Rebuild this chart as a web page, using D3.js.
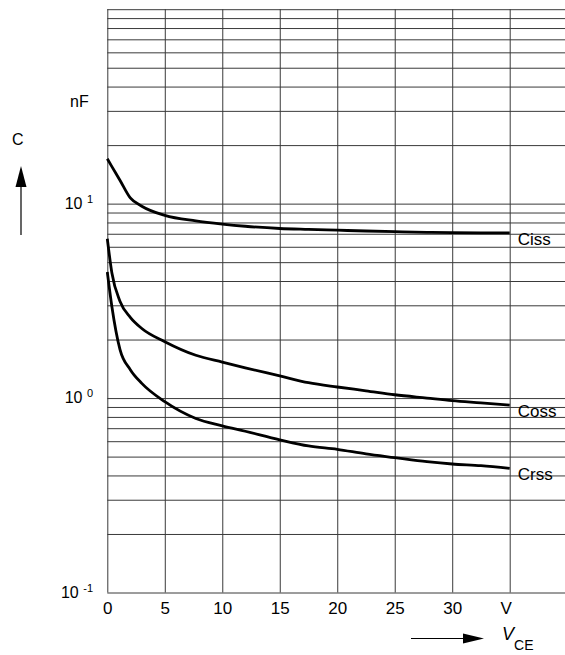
<!DOCTYPE html>
<html>
<head>
<meta charset="utf-8">
<script src="https://cdn.jsdelivr.net/npm/d3@7"></script>
<style>
  html, body { margin: 0; padding: 0; background: #fff; }
  svg { display: block; }
  text { font-family: "Liberation Sans", Arial, sans-serif; fill: #000; }
</style>
</head>
<body>
<svg id="chart" width="565" height="655"></svg>
<script>
// Collector-emitter voltage V_CE (V) at which each capacitance is read
const vce = [0, 0.4, 1.1, 2, 3, 5, 7.7, 10, 12, 15, 17.5, 20, 22.5, 25, 27.8, 30, 32.5, 35];

// Capacitances in nF
const ciss = [17.0, 15.5, 13.2, 10.7, 9.7, 8.7, 8.15, 7.85, 7.65, 7.45, 7.37, 7.3, 7.23, 7.17, 7.12, 7.09, 7.08, 7.08];
const coss = [6.6, 4.4, 3.15, 2.6, 2.28, 1.95, 1.66, 1.53, 1.43, 1.30, 1.20, 1.14, 1.09, 1.04, 1.00, 0.97, 0.945, 0.92];
const crss = [4.45, 2.95, 1.78, 1.40, 1.19, 0.958, 0.785, 0.72, 0.675, 0.61, 0.567, 0.545, 0.516, 0.494, 0.471, 0.458, 0.449, 0.435];

const seriesNames = ["Ciss", "Coss", "Crss"];

// Axis ticks
const xTicks = [0, 5, 10, 15, 20, 25, 30, 35];
const xTickLabels = ["0", "5", "10", "15", "20", "25", "30", "V"];
const yDecades = [0.1, 1, 10];
const yDecadeExponents = ["-1", "0", "1"];

const svg = d3.select("#chart");
const W = 565;

const x = d3.scaleLinear().domain([0, 35]).range([107.3, 509.7]);
const y = d3.scaleLog().domain([0.1, 100]).range([592.5, 9.2]);

// Every 1..9 multiple of each decade gets a horizontal grid line
const yGrid = [];
[0.1, 1, 10].forEach(d => { for (let k = 1; k <= 9; k++) yGrid.push(+(d * k).toPrecision(3)); });
yGrid.push(100);

const grid = svg.append("g");

// horizontal grid (runs to the right edge of the page)
grid.append("g")
  .attr("transform", `translate(${x(0)},0)`)
  .call(d3.axisRight(y).tickValues(yGrid).tickSize(W - x(0)).tickFormat(""))
  .call(g => g.select(".domain").remove())
  .call(g => g.selectAll(".tick line").attr("stroke", "#3a3a3a").attr("stroke-width", 1));

// vertical grid
grid.append("g")
  .attr("transform", `translate(0,${y(100)})`)
  .call(d3.axisBottom(x).tickValues(xTicks).tickSize(y(0.1) - y(100)).tickFormat(""))
  .call(g => g.select(".domain").remove())
  .call(g => g.selectAll(".tick line").attr("stroke", "#3a3a3a").attr("stroke-width", 1));

// x tick labels
svg.append("g")
  .attr("transform", `translate(0,${y(0.1)})`)
  .call(d3.axisBottom(x).tickValues(xTicks).tickSize(0).tickPadding(9)
        .tickFormat((d, i) => xTickLabels[i]))
  .call(g => g.select(".domain").remove())
  .call(g => g.selectAll("text").attr("font-size", 17)
        .attr("font-family", "'Liberation Sans', Arial, sans-serif").attr("fill", "#000"));
svg.selectAll(".tick text").filter(function () { return this.textContent === "V"; })
  .attr("dx", -4);

// y decade labels: 10 with a raised exponent
const yl = svg.append("g");
yDecades.forEach((d, i) => {
  const t = yl.append("text")
    .attr("x", 93)
    .attr("y", y(d) + 5)
    .attr("text-anchor", "end")
    .attr("font-size", 16);
  t.append("tspan").text("10 ");
  t.append("tspan").attr("font-size", 11).attr("dy", -6).text(yDecadeExponents[i]);
});

// unit and quantity
svg.append("text").attr("x", 70).attr("y", 107).attr("font-size", 16).text("nF");
svg.append("text").attr("x", 12).attr("y", 145).attr("font-size", 16).text("C");

// upward arrow under C
svg.append("line").attr("x1", 21).attr("x2", 21).attr("y1", 235).attr("y2", 184)
  .attr("stroke", "#000").attr("stroke-width", 1.2);
svg.append("path").attr("d", "M21,166 L15.5,187 L26.5,187 Z").attr("fill", "#000");

// V_CE arrow and label
svg.append("line").attr("x1", 411).attr("x2", 466).attr("y1", 638.5).attr("y2", 638.5)
  .attr("stroke", "#000").attr("stroke-width", 1.2);
svg.append("path").attr("d", "M484,638.5 L463,633.5 L463,643.5 Z").attr("fill", "#000");
const vl = svg.append("text").attr("x", 502).attr("y", 640).attr("font-size", 18);
vl.append("tspan").attr("font-style", "italic").text("V");
vl.append("tspan").attr("font-size", 14).attr("dy", 10).text("CE");

// curves
const line = d3.line().x((d, i) => x(vce[i])).y(d => y(d)).curve(d3.curveMonotoneX);
const seriesValues = [ciss, coss, crss];
svg.append("g").selectAll("path")
  .data(seriesValues)
  .join("path")
  .attr("d", d => line(d))
  .attr("fill", "none")
  .attr("stroke", "#000")
  .attr("stroke-width", 2.8)
  .attr("stroke-linejoin", "round");

// series labels beside the right end of each curve
svg.append("g").selectAll("text")
  .data(seriesValues)
  .join("text")
  .attr("x", x(35) + 8)
  .attr("y", d => y(d[d.length - 1]) + 12)
  .attr("font-size", 17)
  .text((d, i) => seriesNames[i]);
</script>
</body>
</html>
